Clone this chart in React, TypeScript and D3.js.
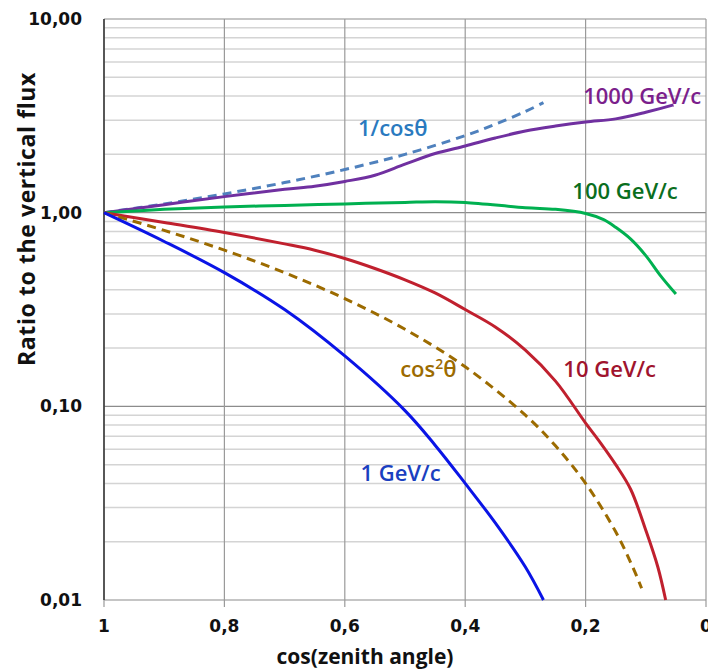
import { useEffect, useRef } from "react";
import * as d3 from "d3";

// cos(zenith angle) sample points and ratios
const cosInv = [1, 0.9, 0.8, 0.7, 0.6, 0.5, 0.4, 0.35, 0.3, 0.27];
const invCosVals = [1, 1.11, 1.25, 1.43, 1.67, 2.0, 2.5, 2.86, 3.33, 3.7];

const cosSq = [1, 0.9, 0.8, 0.7, 0.6, 0.5, 0.4, 0.3, 0.25, 0.2, 0.15, 0.12, 0.107];
const cosSqVals = [1, 0.81, 0.64, 0.49, 0.36, 0.25, 0.16, 0.09, 0.0625, 0.04, 0.0225, 0.0144, 0.0115];

const cos1 = [1, 0.9, 0.8, 0.7, 0.6, 0.5, 0.45, 0.4, 0.35, 0.3, 0.27];
const gev1 = [1, 0.71, 0.49, 0.316, 0.182, 0.095, 0.063, 0.04, 0.025, 0.0148, 0.01];

const cos10 = [1, 0.9, 0.8, 0.7, 0.65, 0.6, 0.55, 0.5, 0.45, 0.4, 0.35, 0.3, 0.25, 0.2, 0.175, 0.15, 0.125, 0.1, 0.08, 0.067];
const gev10 = [1, 0.89, 0.79, 0.69, 0.64, 0.58, 0.515, 0.45, 0.385, 0.316, 0.257, 0.195, 0.135, 0.082, 0.0646, 0.05, 0.0372, 0.0229, 0.0148, 0.01];

const cos100 = [1, 0.9, 0.8, 0.7, 0.6, 0.5, 0.45, 0.4, 0.3, 0.25, 0.2, 0.17, 0.15, 0.125, 0.1, 0.075, 0.05];
const gev100 = [1, 1.04, 1.07, 1.09, 1.11, 1.13, 1.14, 1.13, 1.06, 1.04, 0.99, 0.92, 0.84, 0.73, 0.6, 0.47, 0.38];

const cos1000 = [1, 0.9, 0.8, 0.7, 0.65, 0.6, 0.55, 0.5, 0.45, 0.4, 0.35, 0.3, 0.25, 0.2, 0.15, 0.1, 0.054];
const gev1000 = [1, 1.1, 1.21, 1.32, 1.37, 1.45, 1.56, 1.78, 2.02, 2.21, 2.43, 2.64, 2.8, 2.94, 3.05, 3.3, 3.6];

const xTicks = [1, 0.8, 0.6, 0.4, 0.2, 0];
const xTickLabels = ["1", "0,8", "0,6", "0,4", "0,2", "0"];
const yTicks = [10, 1, 0.1, 0.01];
const yTickLabels = ["10,00", "1,00", "0,10", "0,01"];

const series = [
  { xs: cosInv, ys: invCosVals, color: "#4f81bd", dash: "9,6" },
  { xs: cos1000, ys: gev1000, color: "#7030a0", dash: null },
  { xs: cos100, ys: gev100, color: "#00b050", dash: null },
  { xs: cos10, ys: gev10, color: "#c0202e", dash: null },
  { xs: cosSq, ys: cosSqVals, color: "#9c6b00", dash: "9,6" },
  { xs: cos1, ys: gev1, color: "#0a14e6", dash: null },
];

// label anchors: start of text (cos value) and vertical centre (ratio)
const labels = [
  { text: "1/cosθ", color: "#2a7abf", x: 0.578, y: 2.74 },
  { text: "1000 GeV/c", color: "#7b1f8c", x: 0.204, y: 4.0 },
  { text: "100 GeV/c", color: "#0a6e1e", x: 0.222, y: 1.3 },
  { text: "10 GeV/c", color: "#a0142e", x: 0.237, y: 0.155 },
  { text: "1 GeV/c", color: "#1a3fc0", x: 0.574, y: 0.045 },
];

const App = () => {
  const ref = useRef(null);

  useEffect(() => {
    const svg = d3.select(ref.current);
    svg.selectAll("*").remove();

    const margin = { top: 19, right: 2, bottom: 69, left: 104 };
    const width = 708 - margin.left - margin.right;
    const height = 669 - margin.top - margin.bottom;

    const x = d3.scaleLinear().domain([1, 0]).range([0, width]);
    const y = d3.scaleLog().domain([0.01, 10]).range([height, 0]);

    const g = svg.append("g")
      .attr("transform", `translate(${margin.left},${margin.top})`);

    // minor horizontal grid
    const minor = [];
    [0.01, 0.1, 1].forEach(d => { for (let k = 2; k <= 9; k++) minor.push(d * k); });
    g.selectAll(".minor")
      .data(minor)
      .enter().append("line")
      .attr("x1", 0).attr("x2", width)
      .attr("y1", d => y(d)).attr("y2", d => y(d))
      .attr("stroke", "#d4d4d4").attr("stroke-width", 1.5);

    // major horizontal grid
    g.selectAll(".major")
      .data(yTicks)
      .enter().append("line")
      .attr("x1", 0).attr("x2", width)
      .attr("y1", d => y(d)).attr("y2", d => y(d))
      .attr("stroke", "#8c8c8c").attr("stroke-width", 1.2);

    // vertical grid + ticks
    g.selectAll(".vgrid")
      .data(xTicks)
      .enter().append("line")
      .attr("x1", d => x(d)).attr("x2", d => x(d))
      .attr("y1", 0).attr("y2", height + 7)
      .attr("stroke", "#9a9a9a").attr("stroke-width", 1.2);

    // left axis line
    g.append("line")
      .attr("x1", 0).attr("x2", 0).attr("y1", 0).attr("y2", height)
      .attr("stroke", "#333").attr("stroke-width", 1.5);

    const line = d3.line()
      .x(d => x(d[0]))
      .y(d => y(d[1]))
      .curve(d3.curveCatmullRom.alpha(0.5));

    series.forEach(s => {
      const pts = s.xs.map((v, i) => [v, s.ys[i]]);
      const p = g.append("path")
        .attr("d", line(pts))
        .attr("fill", "none")
        .attr("stroke", s.color)
        .attr("stroke-width", 3)
        .attr("stroke-linecap", "butt");
      if (s.dash) p.attr("stroke-dasharray", s.dash);
    });

    const font = "'DejaVu Sans', sans-serif";
    const labelFont = "'Open Sans', sans-serif";

    // tick labels
    g.selectAll(".xl")
      .data(xTicks)
      .enter().append("text")
      .attr("x", d => x(d))
      .attr("y", height + 32)
      .attr("text-anchor", "middle")
      .style("font-family", font)
      .style("font-size", "17px")
      .style("font-weight", 600)
      .attr("fill", "#111")
      .text((d, i) => xTickLabels[i]);

    g.selectAll(".yl")
      .data(yTicks)
      .enter().append("text")
      .attr("x", -22)
      .attr("y", d => y(d) + 6)
      .attr("text-anchor", "end")
      .style("font-family", font)
      .style("font-size", "17px")
      .style("font-weight", 600)
      .attr("fill", "#111")
      .text((d, i) => yTickLabels[i]);

    // axis titles
    g.append("text")
      .attr("x", 365 - margin.left)
      .attr("y", height + 64)
      .attr("text-anchor", "middle")
      .style("font-family", labelFont)
      .style("font-size", "21px")
      .style("font-weight", 700)
      .attr("fill", "#111")
      .text("cos(zenith angle)");

    g.append("text")
      .attr("transform", `translate(${35 - margin.left},${219 - margin.top}) rotate(-90)`)
      .attr("text-anchor", "middle")
      .style("font-family", labelFont)
      .style("font-size", "23px")
      .style("font-weight", 700)
      .style("letter-spacing", "0.6px")
      .attr("fill", "#111")
      .text("Ratio to the vertical flux");

    // series labels
    labels.forEach(l => {
      g.append("text")
        .attr("x", x(l.x))
        .attr("y", y(l.y))
        .attr("dy", "0.36em")
        .style("font-family", labelFont)
        .style("font-size", "22px")
        .style("font-weight", 600)
        .attr("fill", l.color)
        .text(l.text);
    });

    const cs = g.append("text")
      .attr("x", x(0.508))
      .attr("y", y(0.155))
      .attr("dy", "0.36em")
      .style("font-family", labelFont)
      .style("font-size", "22px")
      .style("font-weight", 600)
      .attr("fill", "#9c6b00");
    cs.append("tspan").text("cos");
    cs.append("tspan").attr("dy", -8).style("font-size", "14px").text("2");
    cs.append("tspan").attr("dy", 8).text("θ");
  }, []);

  return (
    <svg
      ref={ref}
      width={708}
      height={669}
      style={{ position: "absolute", left: 0, top: 0, background: "#fff" }}
    />
  );
};

export default App;
